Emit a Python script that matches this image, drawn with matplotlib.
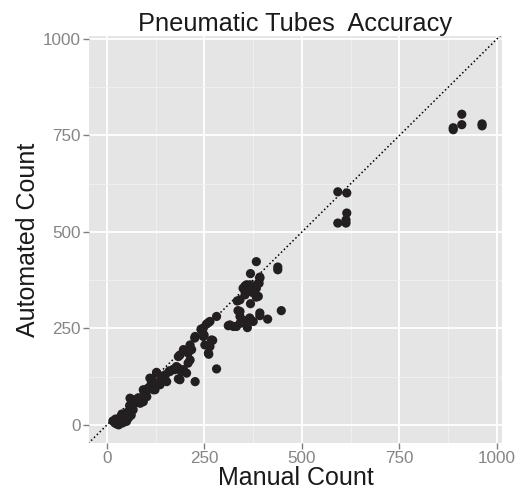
import matplotlib
matplotlib.use("Agg")
import matplotlib.pyplot as plt
from matplotlib.ticker import MultipleLocator

plt.rcParams['font.family'] = ['Liberation Sans', 'DejaVu Sans']

# manual vs automated counts
manual = [15, 20, 25, 30, 33, 35, 40, 42, 45, 50, 48, 38, 28, 22, 55, 55, 60, 62, 58,
          67, 67, 59, 70, 75, 80, 85, 89, 93, 93, 95, 100, 102, 105, 110, 110, 114, 119,
          119, 123, 127, 127, 136, 136, 140, 144, 150, 153, 160, 161, 170, 174, 178, 183,
          183, 187, 191, 196, 204, 183, 187, 196, 204, 208, 208, 213, 213, 217, 226, 226,
          225, 242, 247, 247, 249, 251, 260, 268, 271, 264, 261, 255, 260, 264, 241, 281,
          281, 311, 315, 324, 332, 341, 354, 358, 360, 362, 366, 375, 341, 336, 341, 392,
          392, 412, 447, 341, 334, 368, 383, 388, 354, 366, 375, 349, 354, 358, 367, 371,
          379, 383, 390, 388, 392, 392, 368, 383, 438, 438,
          592, 615, 615, 613, 592, 613,
          888, 888, 910, 910, 962, 962]
automated = [10, 5, 2, 0, 8, 15, 5, 22, 12, 9, 30, 28, 12, 15, 18, 35, 40, 25, 50,
             39, 65, 69, 55, 60, 70, 56, 65, 60, 91, 80, 85, 73, 95, 99, 121, 108, 112,
             91, 91, 134, 136, 104, 112, 125, 125, 130, 112, 140, 138, 144, 143, 151, 147,
             119, 117, 138, 143, 134, 177, 181, 195, 190, 186, 160, 168, 207, 195, 229, 112,
             225, 246, 251, 229, 233, 207, 186, 220, 219, 203, 183, 261, 265, 268, 248, 281,
             145, 257, 259, 255, 255, 263, 270, 259, 252, 268, 277, 268, 281, 296, 294, 290,
             283, 274, 296, 324, 321, 314, 331, 333, 337, 346, 342, 354, 360, 363, 363, 359,
             360, 354, 367, 367, 380, 383, 392, 423, 409, 402,
             604, 601, 549, 531, 523, 523,
             770, 765, 805, 778, 780, 775]

ticks = [0, 250, 500, 750, 1000]

fig = plt.figure(figsize=(5.18, 4.97), dpi=100)
ax = fig.add_axes([0.172, 0.1087, 0.797, 0.819])
ax.set_facecolor('#e5e5e5')
for s in ax.spines.values():
    s.set_visible(False)

ax.set_xlim(-46, 1013)
ax.set_ylim(-47, 1008)
ax.set_xticks(ticks)
ax.set_yticks(ticks)
ax.xaxis.set_minor_locator(MultipleLocator(125))
ax.yaxis.set_minor_locator(MultipleLocator(125))
ax.grid(which='major', color='white', linewidth=1.3)
ax.grid(which='minor', color='#f2f2f2', linewidth=0.6)
ax.set_axisbelow(True)
ax.tick_params(which='major', length=4, width=1, color='#7f7f7f',
               labelcolor='#858585', labelsize=12.3, pad=2)
ax.tick_params(which='minor', length=0)

ax.plot([-100, 1100], [-100, 1100], linestyle=':', color='black', linewidth=1.1, zorder=2)
ax.scatter(manual, automated, s=44, color='#231f20', edgecolors='none', zorder=3)

ax.set_title('Pneumatic Tubes  Accuracy', fontsize=18.3, color='#1a1a1a', pad=3)
ax.set_xlabel('Manual Count', fontsize=18, color='#1a1a1a', labelpad=0)
ax.set_ylabel('Automated Count', fontsize=18, color='#1a1a1a', labelpad=2)

fig.savefig('out.png', dpi=100)
